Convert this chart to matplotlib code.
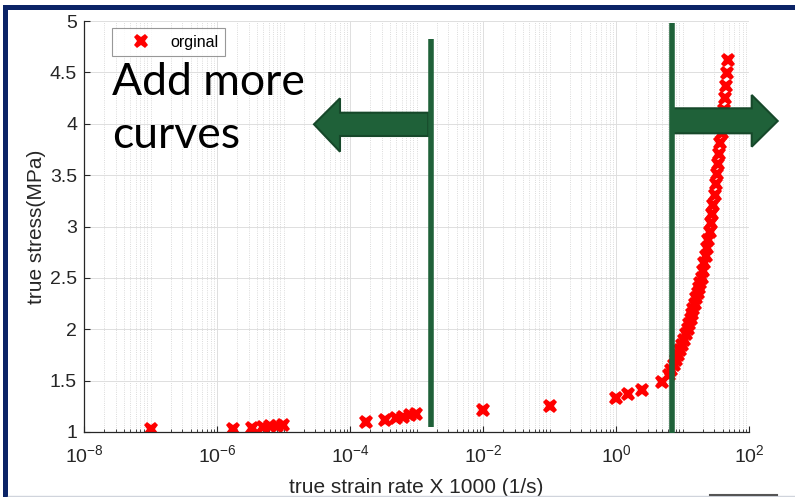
"""True stress vs. true strain rate (log x) with overlay callouts."""

import matplotlib.pyplot as plt
from matplotlib.patches import Polygon, Rectangle
from matplotlib.lines import Line2D
from matplotlib.ticker import LogLocator, NullFormatter

# measured points: strain rate x1000 (1/s), true stress (MPa)
strain_rate = [
    1.0e-7, 1.75e-6, 3.4e-6, 4.9e-6, 6.3e-6, 7.9e-6, 9.9e-6,
    1.74e-4, 3.4e-4, 5.0e-4, 6.3e-4, 8.0e-4, 9.8e-4,
    1.0e-2, 1.0e-1, 1.0, 1.5, 2.5, 4.9, 6.2,
    6.8, 7.4, 8.0, 8.6, 9.2, 9.8, 10.7, 11.3, 11.9, 12.5, 13.2, 13.9,
    14.6, 15.4, 16.1, 16.9, 17.7, 18.5, 19.4, 20.3, 21.3, 22.3, 23.3,
    24.4, 25.5, 26.6, 27.8, 29.0, 30.3, 31.6, 32.9, 34.3, 35.7, 37.1,
    38.6, 40.1, 41.6, 43.2, 44.8, 46.5, 48.6,
]
true_stress = [
    1.03, 1.03, 1.04, 1.05, 1.055, 1.06, 1.07,
    1.10, 1.12, 1.14, 1.15, 1.165, 1.18,
    1.21, 1.25, 1.33, 1.365, 1.41, 1.49, 1.555,
    1.60, 1.65, 1.70, 1.75, 1.80, 1.85, 1.90, 1.95, 2.00, 2.05, 2.10, 2.15,
    2.20, 2.25, 2.30, 2.35, 2.40, 2.45, 2.50, 2.57, 2.64, 2.71, 2.79,
    2.87, 2.95, 3.03, 3.12, 3.21, 3.31, 3.41, 3.51, 3.61, 3.71, 3.81,
    3.91, 4.02, 4.13, 4.25, 4.37, 4.49, 4.62,
]
x_major = [1e-8, 1e-6, 1e-4, 1e-2, 1e0, 1e2]
y_ticks = [1, 1.5, 2, 2.5, 3, 3.5, 4, 4.5, 5]
y_labels = ["1", "1.5", "2", "2.5", "3", "3.5", "4", "4.5", "5"]

W, H = 795, 497
fig = plt.figure(figsize=(W / 100, H / 100), dpi=100)
fig.patch.set_facecolor("white")


def px(x, y):
    """Figure pixel (from top-left) -> figure fraction."""
    return x / W, 1 - y / H


ax = fig.add_axes([84 / W, 1 - 432 / H, (749 - 84) / W, (432 - 21) / H])
ax.plot(strain_rate, true_stress, linestyle="none", marker="X", markersize=10.5,
        color="red", markeredgewidth=0, label="orginal")

ax.set_xscale("log")
ax.set_xlim(1e-8, 1e2)
ax.set_ylim(1, 5)
ax.set_xticks(x_major)
ax.xaxis.set_minor_locator(LogLocator(base=10, subs=range(1, 10), numticks=100))
ax.xaxis.set_minor_formatter(NullFormatter())
ax.set_yticks(y_ticks)
ax.set_yticklabels(y_labels)

ax.grid(True, which="major", color="#dedede", linewidth=0.7, linestyle="-")
ax.grid(True, which="minor", axis="x", color="#cfcfcf", linewidth=0.6, linestyle=":")
ax.set_axisbelow(True)

for side in ("top", "right"):
    ax.spines[side].set_visible(False)
for side in ("left", "bottom"):
    ax.spines[side].set_color("#262626")
    ax.spines[side].set_linewidth(0.9)
ax.tick_params(which="both", direction="in", colors="#262626", labelsize=14)
ax.tick_params(which="major", length=4, width=0.8)
ax.tick_params(which="minor", length=2.5, width=0.6)
ax.tick_params(axis="x", pad=9)
ax.tick_params(axis="y", pad=5)
for lab in ax.get_xticklabels() + ax.get_yticklabels():
    lab.set_fontfamily("Liberation Sans")

ax.set_xlabel("true strain rate X 1000 (1/s)", fontsize=15, family="Liberation Sans",
              color="#262626", labelpad=8)
ax.set_ylabel("true stress(MPa)", fontsize=15, family="Liberation Sans",
              color="#262626", labelpad=3)

leg = ax.legend(loc="upper left", bbox_to_anchor=(0.042, 0.982), borderaxespad=0,
                fancybox=False, prop={"family": "Liberation Sans", "size": 11.5},
                handletextpad=0.35, borderpad=0.4, handlelength=2.9)
leg.get_frame().set_edgecolor("#7f7f7f")
leg.get_frame().set_linewidth(0.8)

# callout overlays
green = "#1f6139"
edge = "#16482a"

for x0, y0, y1 in [(430.7, 39, 427), (672.3, 23, 433)]:
    fig.add_artist(Line2D([x0 / W, x0 / W], [1 - y0 / H, 1 - y1 / H],
                          color=green, linewidth=4, solid_capstyle="butt"))

left_arrow = [(314, 124.3), (340, 98.3), (340, 112.7), (428.3, 112.7),
              (428.3, 136), (340, 136), (340, 151.7)]
right_arrow = [(671.7, 108.3), (751.7, 108.3), (751.7, 95), (777.7, 121),
               (751.7, 146.7), (751.7, 133.3), (671.7, 133.3)]
for pts in (left_arrow, right_arrow):
    fig.add_artist(Polygon([px(*p) for p in pts], closed=True, facecolor=green,
                           edgecolor=edge, linewidth=1.5))

fig.text(*px(112, 95), "Add more", fontsize=32, family="Lato", va="baseline", ha="left")
fig.text(*px(112, 148), "curves", fontsize=32, family="Lato", va="baseline", ha="left")

# slide frame
navy = "#0b2366"
fig.add_artist(Rectangle(px(3, H), 5 / W, (H - 5) / H, facecolor=navy, edgecolor="none"))
fig.add_artist(Rectangle(px(3, 10), (W - 3) / W, 5 / H, facecolor=navy, edgecolor="none"))
fig.add_artist(Line2D([8 / W, 1], [1 - 495.5 / H] * 2, color="#d0d4dc", linewidth=1))
fig.add_artist(Line2D([710 / W, 777 / W], [1 - 495 / H] * 2, color="#555555", linewidth=1.5))

fig.savefig("out.png", dpi=100)
